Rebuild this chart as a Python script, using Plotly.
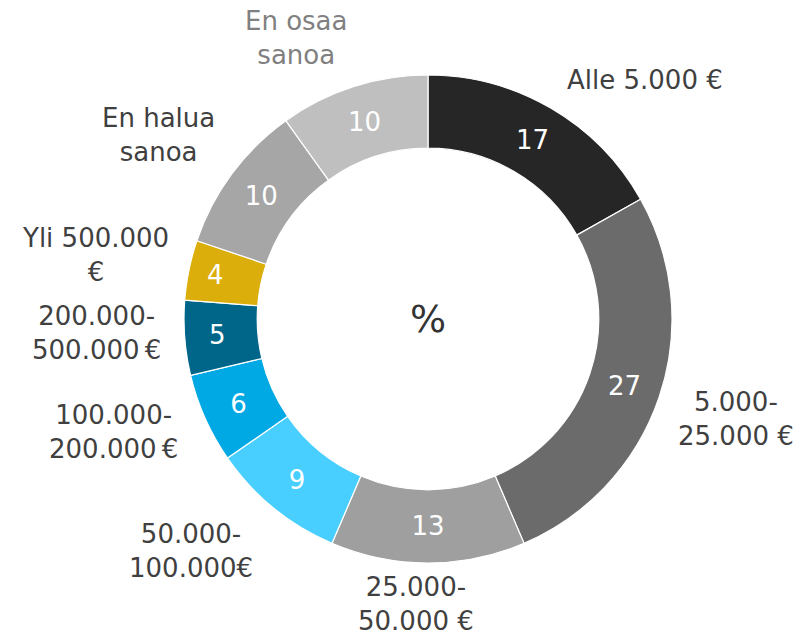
import math
import plotly.graph_objects as go

# ---- data ----
categories = ["Alle 5.000 €", "5.000-<br>25.000 €", "25.000-<br>50.000 €",
              "50.000-<br>100.000€", "100.000-<br>200.000\u2009€",
              "200.000-<br>500.000\u2009€", "Yli 500.000<br>€",
              "En halua<br>sanoa", "En osaa<br>sanoa"]
values = [17, 27, 13, 9, 6, 5, 4, 10, 10]
center_text = "%"

# ---- styles ----
colors = ["#262626", "#6b6b6b", "#9f9f9f", "#48cfff", "#00a8e4",
          "#006689", "#dbae0b", "#a6a6a6", "#bfbfbf"]
label_colors = ["#404040"] * 8 + ["#808080"]
# small pixel nudges of the outside labels (style only)
label_nudges = [(5, 0), (0, 6), (-12, -7), (-7, 6), (-9, -6), (-4, -9),
                (0, -5), (0, -10), (2, -3)]
FONT = "DejaVu Sans, Verdana, sans-serif"

W, H = 803, 639
CX, CY, R = 428, 319, 244
ml, mt = CX - R, CY - R
mr, mb = W - (CX + R), H - (CY + R)
pw, ph = 2 * R, 2 * R

fig = go.Figure(go.Pie(
    labels=categories,
    values=values,
    sort=False,
    direction="clockwise",
    rotation=0,
    hole=0.70,
    marker=dict(colors=colors, line=dict(color="white", width=1.2)),
    textinfo="value",
    textposition="inside",
    insidetextorientation="horizontal",
    textfont=dict(family=FONT, size=26, color="white"),
    showlegend=False,
    hoverinfo="label+value",
))

# outside labels placed from each slice's mid-angle
annotations = []
total = sum(values)
cum = 0
for lab, v, col, (ndx, ndy) in zip(categories, values, label_colors, label_nudges):
    mid = (cum + v / 2) / total * 2 * math.pi
    cum += v
    s, c = math.sin(mid), math.cos(mid)
    px = CX + (R + 18) * s
    py = CY - (R + 18) * c
    nlines = lab.count("<br>") + 1
    blockh = nlines * 30
    yc = py - c * blockh / 2
    if s > 0.3:
        xa = "left"
    elif s < -0.3:
        xa = "right"
    else:
        xa = "center"
    annotations.append(dict(
        x=(px + ndx - ml) / pw, y=1 - (yc + ndy - mt) / ph,
        xref="paper", yref="paper",
        text=lab, showarrow=False, xanchor=xa, yanchor="middle", align="center",
        font=dict(family=FONT, size=26, color=col)))

annotations.append(dict(x=0.5, y=0.5, xref="paper", yref="paper", text=center_text,
                        showarrow=False, xanchor="center", yanchor="middle",
                        font=dict(family=FONT, size=38, color="#333333")))

fig.update_layout(
    width=W, height=H,
    margin=dict(l=ml, r=mr, t=mt, b=mb, pad=0),
    paper_bgcolor="white", plot_bgcolor="white",
    annotations=annotations,
)

fig.write_html("out.html", config={"displayModeBar": False},
               post_script="document.body.style.margin='0';")
